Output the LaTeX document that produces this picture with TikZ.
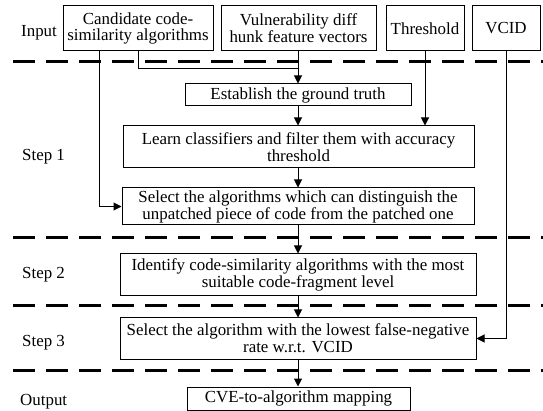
\documentclass[tikz,border=0pt]{standalone}
\usepackage{fontspec}
\setmainfont{Liberation Serif}
\usetikzlibrary{arrows.meta}
\begin{document}
\begin{tikzpicture}[x=1pt,y=-1pt,
  every node/.style={font=\fontsize{16.9}{16.9}\selectfont},
  box/.style={draw,line width=1pt,inner sep=0pt,align=center,anchor=center},
  lbl/.style={anchor=base west,inner sep=0pt},
  sep/.style={line width=3pt,dash pattern=on 22pt off 11pt},
  conn/.style={line width=1pt},
  arr/.style={conn,-{Triangle[length=8pt,width=8pt]}}]
\useasboundingbox (0,0) rectangle (543,411);
% separators
\draw[sep] (13,62) -- (543,62);
\draw[sep] (13,238) -- (543,238);
\draw[sep] (13,306) -- (543,306);
\draw[sep] (13,370) -- (543,370);
% labels
\node[lbl] (lin) at (21,37) {Input};
\node[lbl] (ls1) at (22,161) {Step 1};
\node[lbl] (ls2) at (22,279) {Step 2};
\node[lbl] (ls3) at (22,346) {Step 3};
\node[lbl] (lout) at (20,405) {Output};
% input boxes
\node[box,minimum width=150pt,minimum height=45pt] (b1) at (138,28.5) {Candidate code-\\similarity algorithms};
\node[box,minimum width=155pt,minimum height=45pt] (b2) at (298.5,28.5) {Vulnerability diff\\hunk feature vectors};
\node[box,minimum width=78pt,minimum height=45pt] (thr) at (425,28.5) {Threshold};
\node[box,minimum width=68pt,minimum height=45pt] (vcid) at (506,28.5) {VCID};
% process boxes
\node[box,minimum width=226pt,minimum height=22pt] (gt) at (298,95) {Establish the ground truth};
\node[box,minimum width=351pt,minimum height=42pt] (learn) at (298.5,147) {Learn classifiers and filter them with accuracy\\threshold};
\node[box,minimum width=352pt,minimum height=37pt] (sel) at (298,206.5) {Select the algorithms which can distinguish the\\unpatched piece of code from the patched one};
\node[box,minimum width=356pt,minimum height=42pt] (ident) at (298,275) {Identify code-similarity algorithms with the most\\suitable code-fragment level};
\node[box,minimum width=356pt,minimum height=41pt] (sel3) at (298,338.5) {Select the algorithm with the lowest false-negative\\rate w.r.t. VCID};
\node[box,minimum width=223pt,minimum height=23pt] (out) at (298.5,398.5) {CVE-to-algorithm mapping};
% connectors
\coordinate (j) at (298,69);
\draw[conn] (b1.south) |- (j);
\draw[arr] ([xshift=-39pt]b1.south) |- (sel.west);
\draw[arr] (b2.south -| gt.north) -- (gt.north);
\draw[arr] (gt.south) -- (gt.south |- learn.north);
\draw[arr] (thr.south) -- (thr.south |- learn.north);
\draw[arr] (learn.south -| sel.north) -- (sel.north);
\draw[arr] (sel.south) -- (ident.north);
\draw[arr] (ident.south) -- (sel3.north);
\draw[arr] (sel3.south) -- (sel3.south |- out.north);
\draw[arr] (vcid.south) |- (sel3.east);
\end{tikzpicture}
\end{document}
